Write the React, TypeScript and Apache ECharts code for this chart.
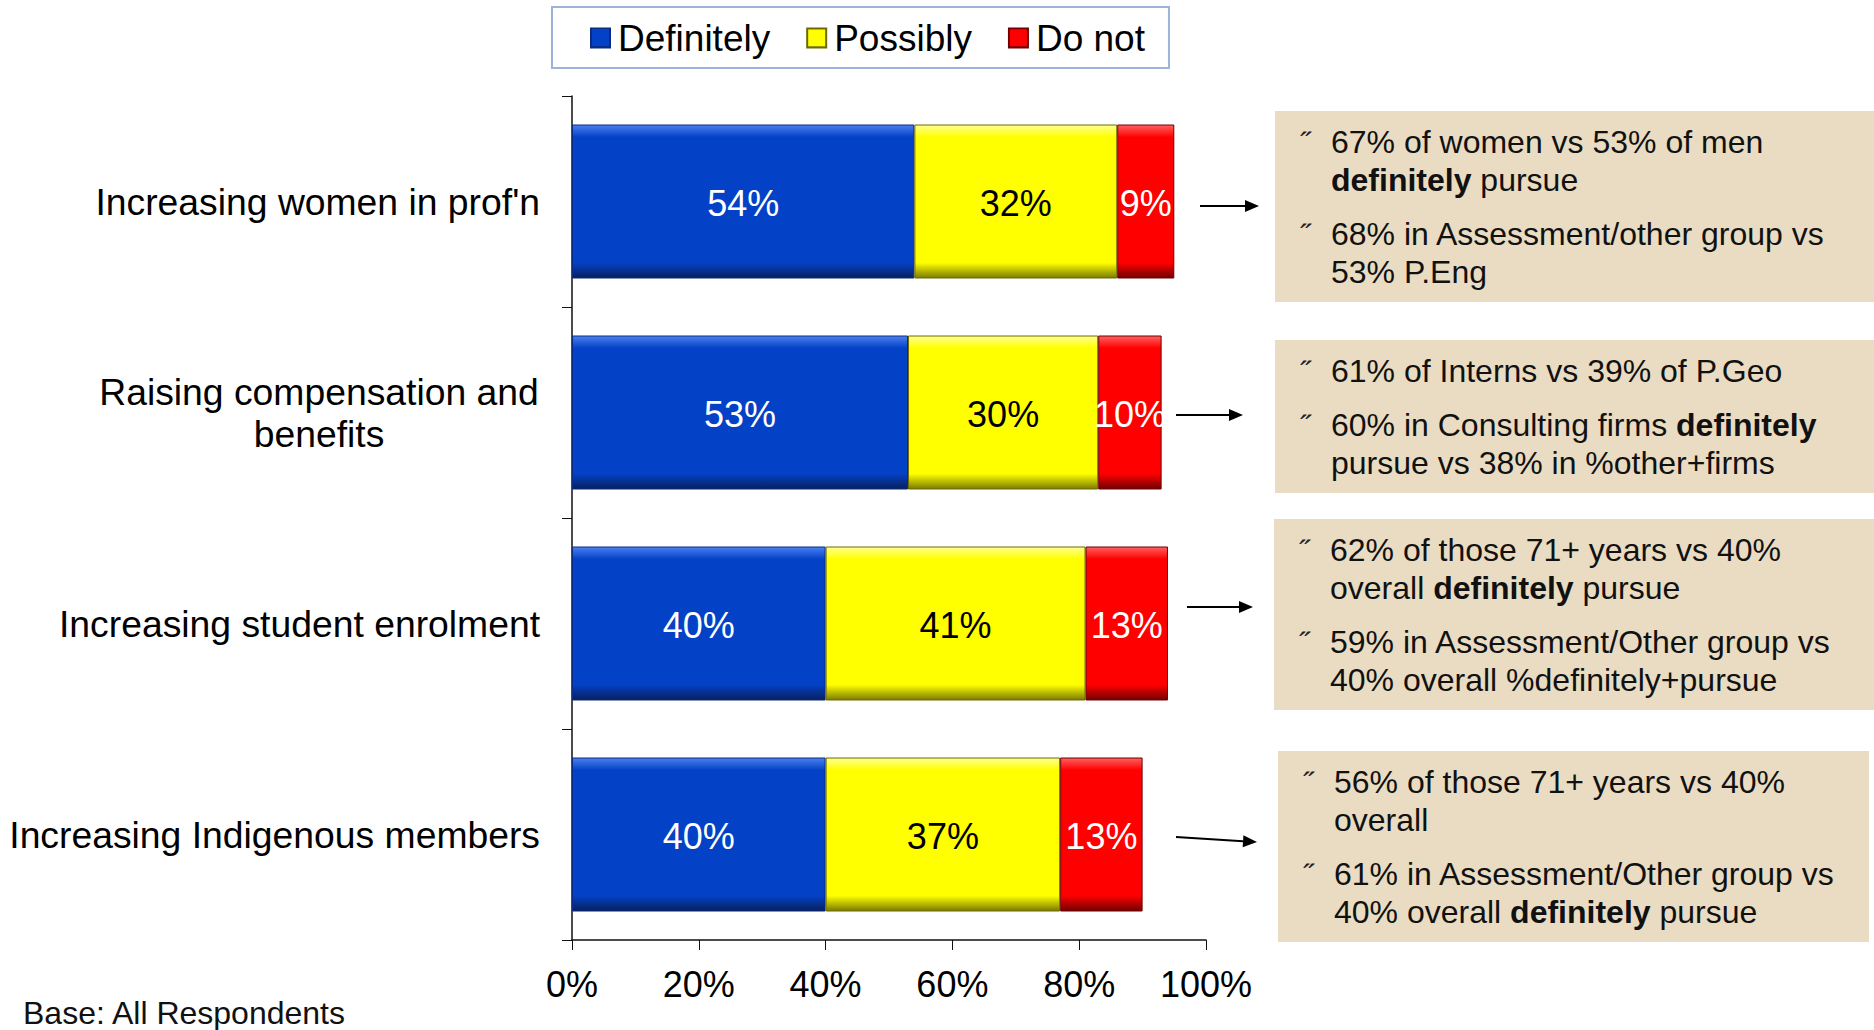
import React, { useEffect, useRef } from "react";
import * as echarts from "echarts";

const FONT = "'Liberation Sans', Arial, Helvetica, sans-serif";

const categories = [
  "Increasing women in prof'n",
  "Raising compensation and\nbenefits",
  "Increasing student enrolment",
  "Increasing Indigenous members",
];
const definitely = [54, 53, 40, 40];
const possibly = [32, 30, 41, 37];
const doNot = [9, 10, 13, 13];
const xTicks = [0, 20, 40, 60, 80, 100];

const note1 = [
  ["67% of women vs 53% of men", "{b|definitely} pursue"],
  ["68% in Assessment/other group vs", "53% P.Eng"],
];
const note2 = [
  ["61% of Interns vs 39% of P.Geo"],
  ["60% in Consulting firms {b|definitely}", "pursue vs 38% in %other+firms"],
];
const note3 = [
  ["62% of those 71+ years vs 40%", "overall {b|definitely} pursue"],
  ["59% in Assessment/Other group vs", "40% overall %definitely+pursue"],
];
const note4 = [
  ["56% of those 71+ years vs 40%", "overall"],
  ["61% in Assessment/Other group vs", "40% overall {b|definitely} pursue"],
];
const notes = [note1, note2, note3, note4];
const noteBoxes = [
  { x: 1275, y: 111, w: 599 },
  { x: 1275, y: 340, w: 599 },
  { x: 1274, y: 519, w: 600 },
  { x: 1278, y: 751, w: 591 },
];
const arrows = [
  [1200, 206, 1259, 206],
  [1176, 415, 1243, 415],
  [1187, 607, 1253, 607],
  [1176, 837, 1257, 842],
];

function grad(light: string, base: string, dark: string) {
  return new echarts.graphic.LinearGradient(0, 0, 0, 1, [
    { offset: 0, color: light },
    { offset: 0.08, color: base },
    { offset: 0.9, color: base },
    { offset: 1, color: dark },
  ]);
}

function buildGraphics() {
  const els: any[] = [];
  const LINE = 38;
  const PARA = 16;
  const FS = 32;
  notes.forEach((paras, i) => {
    const box = noteBoxes[i];
    let nLines = 0;
    paras.forEach((p) => (nLines += p.length));
    const h = 31 + (nLines - 1) * LINE + (paras.length - 1) * PARA + 30;
    els.push({
      type: "rect",
      shape: { x: box.x, y: box.y, width: box.w, height: h },
      style: { fill: "#E9DCC2" },
      z: 1,
    });
    let cy = box.y + 31;
    paras.forEach((p, pi) => {
      if (pi > 0) cy += PARA;
      els.push({
        type: "text",
        x: box.x + 25,
        y: cy,
        style: {
          text: "\u02DD",
          fontSize: 30,
          fontFamily: FONT,
          fill: "#222",
          verticalAlign: "middle",
        },
        z: 2,
      });
      p.forEach((line) => {
        els.push({
          type: "text",
          x: box.x + 56,
          y: cy,
          style: {
            text: line,
            fontSize: FS,
            fontFamily: FONT,
            fill: "#111",
            verticalAlign: "middle",
            rich: {
              b: { fontSize: FS, fontFamily: FONT, fontWeight: "bold", fill: "#111" },
            },
          },
          z: 2,
        });
        cy += LINE;
      });
    });
  });
  arrows.forEach(([x1, y1, x2, y2]) => {
    const ang = Math.atan2(y2 - y1, x2 - x1);
    const L = 14;
    const W = 6;
    const bx = x2 - L * Math.cos(ang);
    const by = y2 - L * Math.sin(ang);
    els.push({
      type: "line",
      shape: { x1, y1, x2: bx, y2: by },
      style: { stroke: "#000", lineWidth: 2 },
      z: 3,
    });
    els.push({
      type: "polygon",
      shape: {
        points: [
          [x2, y2],
          [bx + W * Math.sin(ang), by - W * Math.cos(ang)],
          [bx - W * Math.sin(ang), by + W * Math.cos(ang)],
        ],
      },
      style: { fill: "#000" },
      z: 3,
    });
  });
  els.push({
    type: "text",
    x: 23,
    y: 1013,
    style: {
      text: "Base: All Respondents",
      fontSize: 32,
      fontFamily: FONT,
      fill: "#111",
      verticalAlign: "middle",
    },
  });
  return els;
}

export default function App() {
  const ref = useRef<HTMLDivElement>(null);
  useEffect(() => {
    document.body.style.margin = "0";
    const chart = echarts.init(ref.current!, undefined, { renderer: "svg" });
    const labelBase = {
      show: true,
      position: "inside",
      fontSize: 36,
      fontFamily: FONT,
      offset: [0, 2],
      formatter: "{c}%",
    };
    const option: any = {
      animation: false,
      backgroundColor: "#fff",
      textStyle: { fontFamily: FONT },
      legend: {
        left: 552,
        top: 7,
        padding: [9, 24, 8, 38],
        borderColor: "#9DB4DA",
        borderWidth: 2,
        itemWidth: 19,
        itemHeight: 19,
        itemGap: 36,
        icon: "rect",
        textStyle: { fontSize: 37, fontFamily: FONT, color: "#000", padding: [0, 0, 0, 3], lineHeight: 44 },
        data: ["Definitely", "Possibly", "Do not"],
      },
      grid: { left: 572, right: 668, top: 96, bottom: 90, containLabel: false },
      xAxis: {
        type: "value",
        min: 0,
        max: 100,
        interval: 20,
        splitLine: { show: false },
        axisLine: { show: true, lineStyle: { color: "#111", width: 1.5 } },
        axisTick: { show: true, length: 10, lineStyle: { color: "#111", width: 1 } },
        axisLabel: {
          fontSize: 36,
          fontFamily: FONT,
          color: "#000",
          margin: 26,
          formatter: (v: number) => (xTicks.includes(v) ? v + "%" : ""),
        },
      },
      yAxis: {
        type: "category",
        inverse: true,
        data: categories,
        axisLine: { show: true, lineStyle: { color: "#111", width: 1.5 } },
        axisTick: { show: true, length: 10, alignWithLabel: false, lineStyle: { color: "#111", width: 1 } },
        axisLabel: {
          fontSize: 37.3,
          fontFamily: FONT,
          color: "#000",
          margin: 32,
          lineHeight: 42,
          formatter: (v: string) => {
            if (v.indexOf("\n") >= 0) {
              return v
                .split("\n")
                .map((s) => "{c|" + s + "}")
                .join("\n");
            }
            return v;
          },
          rich: {
            c: { fontSize: 37.3, fontFamily: FONT, color: "#000", width: 442, align: "center", lineHeight: 42 },
          },
        },
      },
      series: [
        {
          name: "Definitely",
          type: "bar",
          stack: "all",
          barWidth: 154,
          data: definitely,
          itemStyle: {
            color: grad("#4A80F0", "#0341C6", "#08205E"),
            borderColor: "#0B2A80",
            borderWidth: 1,
          },
          label: { ...labelBase, color: "#fff" },
        },
        {
          name: "Possibly",
          type: "bar",
          stack: "all",
          barWidth: 154,
          data: possibly,
          itemStyle: {
            color: grad("#FFFF90", "#FFFF00", "#7A7A00"),
            borderColor: "#6E6A00",
            borderWidth: 1,
          },
          label: { ...labelBase, color: "#000" },
        },
        {
          name: "Do not",
          type: "bar",
          stack: "all",
          barWidth: 154,
          data: doNot,
          itemStyle: {
            color: grad("#FF6060", "#FF0000", "#700000"),
            borderColor: "#700000",
            borderWidth: 1,
          },
          label: { ...labelBase, color: "#fff" },
        },
      ],
      graphic: buildGraphics(),
    };
    chart.setOption(option);
    return () => chart.dispose();
  }, []);
  return (
    <div
      ref={ref}
      style={{ width: 1874, height: 1030, position: "absolute", left: 0, top: 0 }}
    />
  );
}
